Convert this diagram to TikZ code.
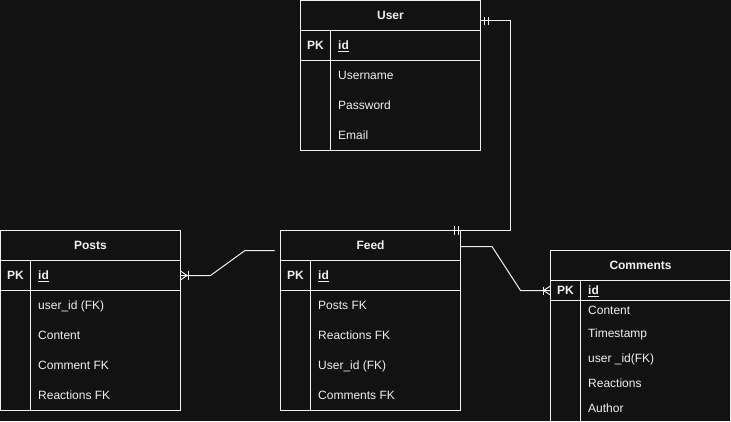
\documentclass[tikz,border=0pt]{standalone}
\usepackage{fontspec}
\setmainfont{Liberation Sans}
\usetikzlibrary{calc}
\definecolor{bgc}{RGB}{18,18,18}
\definecolor{fgc}{RGB}{240,240,240}
\begin{document}
\begin{tikzpicture}[x=1pt,y=-1pt,
  ln/.style={draw=fgc,line width=1pt},
  tbl/.style={ln,anchor=north west,inner sep=0pt,outer sep=0pt,minimum width=180pt,minimum height=180pt},
  ttl/.style={text=fgc,font=\fontsize{12}{14}\selectfont\bfseries,anchor=base,inner sep=0pt},
  pk/.style={text=fgc,font=\fontsize{12}{14}\selectfont\bfseries,anchor=base,inner sep=0pt},
  pkid/.style={text=fgc,font=\fontsize{12}{14}\selectfont\bfseries,anchor=base west,inner sep=0pt},
  fld/.style={text=fgc,font=\fontsize{12}{14}\selectfont,anchor=base west,inner sep=0pt},
  conn/.style={ln,line join=miter}]
\fill[bgc] (0,0) rectangle (731,421);
\useasboundingbox (0,0) rectangle (731,421);
\clip (0,0) rectangle (731,421);

% ---------- User ----------
\node[tbl,minimum height=150pt] (user) at (300.5,0.5) {};
\draw[ln] (300.5,30.5) -- (480.5,30.5);
\draw[ln] (300.5,60.5) -- (480.5,60.5);
\draw[ln] (330.5,30.5) -- (330.5,150.5);
\node[ttl] (userT) at (390.5,19.3) {User};
\node[pk] (userPK) at (315.5,49.3) {PK};
\node[pkid] (userId) at (338,49.3) {\underline{id}};
\node[fld] (userF1) at (338,79.5) {Username};
\node[fld] (userF2) at (338,109.5) {Password};
\node[fld] (userF3) at (338,139.5) {Email};

% ---------- Posts ----------
\node[tbl] (posts) at (0.5,230.5) {};
\draw[ln] (0.5,260.5) -- (180.5,260.5);
\draw[ln] (0.5,290.5) -- (180.5,290.5);
\draw[ln] (30.5,260.5) -- (30.5,410.5);
\node[ttl] (postsT) at (90.5,249.3) {Posts};
\node[pk] (postsPK) at (15.5,279.3) {PK};
\node[pkid] (postsId) at (38,279.3) {\underline{id}};
\node[fld] (postsF1) at (38,309.5) {user\_id (FK)};
\node[fld] (postsF2) at (38,339.5) {Content};
\node[fld] (postsF3) at (38,369.5) {Comment FK};
\node[fld] (postsF4) at (38,399.5) {Reactions FK};

% ---------- Feed ----------
\node[tbl] (feed) at (280.5,230.5) {};
\draw[ln] (280.5,260.5) -- (460.5,260.5);
\draw[ln] (280.5,290.5) -- (460.5,290.5);
\draw[ln] (310.5,260.5) -- (310.5,410.5);
\node[ttl] (feedT) at (370.5,249.3) {Feed};
\node[pk] (feedPK) at (295.5,279.3) {PK};
\node[pkid] (feedId) at (318,279.3) {\underline{id}};
\node[fld] (feedF1) at (318,309.5) {Posts FK};
\node[fld] (feedF2) at (318,339.5) {Reactions FK};
\node[fld] (feedF3) at (318,369.5) {User\_id (FK)};
\node[fld] (feedF4) at (318,399.5) {Comments FK};

% ---------- Comments ----------
\node[tbl] (comments) at (550.5,250.5) {};
\draw[ln] (550.5,280.5) -- (730.5,280.5);
\draw[ln] (550.5,300.5) -- (730.5,300.5);
\draw[ln] (580.5,280.5) -- (580.5,430.5);
\node[ttl] (commentsT) at (640.5,269.3) {Comments};
\node[pk] (commentsPK) at (565.5,294.3) {PK};
\node[pkid] (commentsId) at (588,294.3) {\underline{id}};
\node[fld] (commentsF1) at (588,314) {Content};
\node[fld] (commentsF2) at (588,337.6) {Timestamp};
\node[fld] (commentsF3) at (588,362.4) {user \_id(FK)};
\node[fld] (commentsF4) at (588,387.3) {Reactions};
\node[fld] (commentsF5) at (588,412.2) {Author};

% ---------- Connectors ----------
% User -> Feed (one and only one at both ends)
\draw[conn] ($(user.north east)+(0,20)$) -- (510.5,20.5) -- (510.5,230.5) -- ($(feed.north east)+(-10,0)$);
\draw[ln] ($(user.north east)+(4,16)$) -- ++(0,8);
\draw[ln] ($(user.north east)+(8,16)$) -- ++(0,8);
\draw[ln] ($(feed.north east)+(-6,-4.5)$) -- ++(0,9);
\draw[ln] ($(feed.north east)+(-2,-4.5)$) -- ++(0,9);

% Posts -> Feed (one to many at Posts)
\draw[conn] ($(posts.north east)+(0,45)$) -- (210.5,275.5) -- (245,250.5) -- ($(feed.north west)+(-6,20)$);
\draw[ln] ($(posts.north east)+(0,40.5)$) -- ($(posts.north east)+(6.5,45)$) -- ($(posts.north east)+(0,49.5)$);
\draw[ln] ($(posts.north east)+(8,40.5)$) -- ++(0,9);

% Feed -> Comments (one to many at Comments)
\draw[conn] ($(feed.north east)+(0,16)$) -- (492,246.5) -- (520.5,290.5) -- ($(comments.north west)+(0,40)$);
\draw[ln] ($(comments.north west)+(0,35.5)$) -- ($(comments.north west)+(-7,40)$) -- ($(comments.north west)+(0,44.5)$);
\draw[ln] ($(comments.north west)+(-7,36)$) -- ++(0,8);
\end{tikzpicture}
\end{document}
